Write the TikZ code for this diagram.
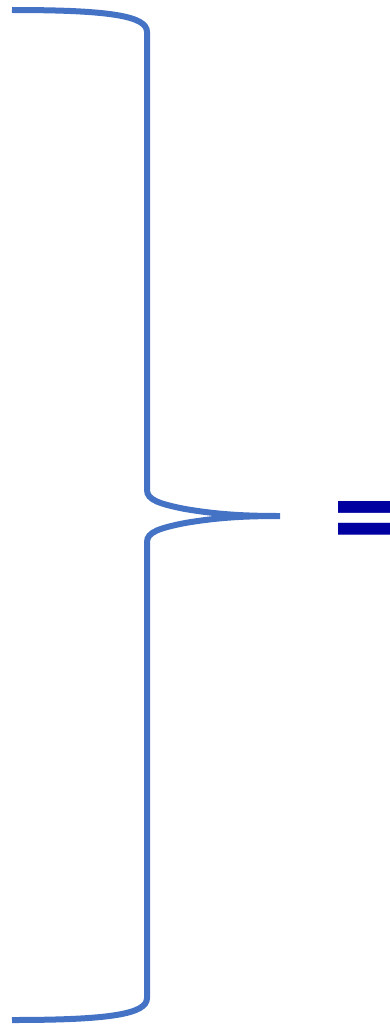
\documentclass[tikz,border=0pt]{standalone}
\usepackage{fontspec}
\newfontfamily\eqfont{Carlito}
\definecolor{braceblue}{RGB}{68,114,196}
\definecolor{eqblue}{RGB}{0,0,160}
\begin{document}
\begin{tikzpicture}[x=1pt,y=-1pt,
  bracepart/.style={draw=braceblue, line width=6pt},
  eqsign/.style={text=eqblue, font=\eqfont\bfseries\fontsize{130}{130}\selectfont, inner sep=0pt}]
\useasboundingbox (0,0) rectangle (390,1025);
\clip (0,0) rectangle (390,1025);
% the brace
\coordinate (top) at (12,10);
\coordinate (tip) at (280,516);
\coordinate (bottom) at (12,1020);
\draw[bracepart] (top) .. controls (110,10) and (147,16) .. (147,32)
  -- (147,490) .. controls (147,500) and (160,504) .. (185,509)
  .. controls (215,514) and (240,516) .. (tip)
  .. controls (240,516) and (215,518) .. (185,523)
  .. controls (160,528) and (147,532) .. (147,542)
  -- (147,998) .. controls (147,1014) and (110,1020) .. (bottom);
% equals sign
\node[eqsign, anchor=west] (eq) at (333,530) {=};
\end{tikzpicture}
\end{document}
